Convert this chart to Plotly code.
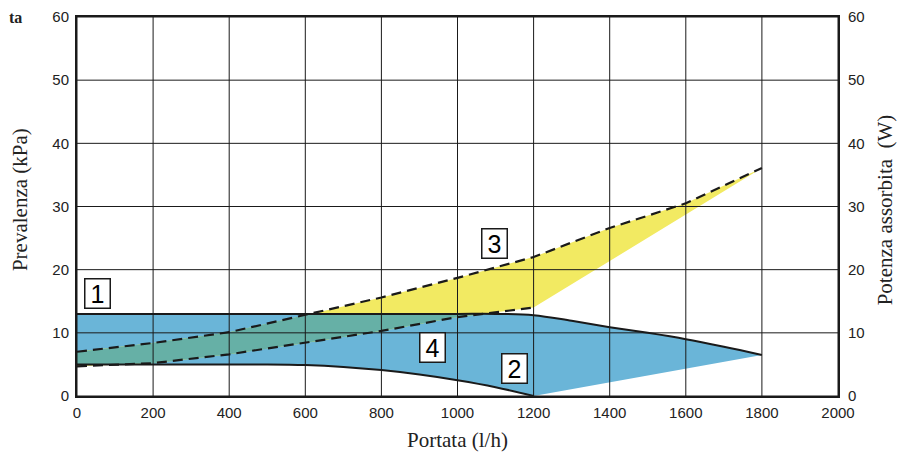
import numpy as np
import plotly.graph_objects as go

# portata (l/h) sampling points
q = [0, 200, 400, 500, 600, 700, 800, 900, 1000, 1100, 1200]
# curve 2: minimum head (kPa)
h_min = [5.0, 5.0, 5.0, 5.0, 4.9, 4.6, 4.1, 3.4, 2.5, 1.4, 0.0]
# curve 1: maximum head (kPa)
q_max = [0, 200, 400, 600, 800, 1000, 1100, 1200, 1300, 1400, 1500, 1600, 1700, 1800]
h_max = [13.0, 13.0, 13.0, 13.0, 13.0, 13.0, 13.0, 12.8, 11.9, 10.9, 10.0, 9.0, 7.8, 6.5]

# curve 3: max absorbed power (W)
q_p = [0, 200, 400, 600, 800, 1000, 1200, 1400, 1600, 1800]
p_max = [7.0, 8.4, 10.1, 12.8, 15.6, 18.7, 22.0, 26.6, 30.5, 36.1]
# curve 4: min absorbed power (W)
q_p4 = [0, 200, 400, 600, 800, 1000, 1200]
p_min = [4.7, 5.2, 6.6, 8.4, 10.3, 12.5, 14.0]

labels = ["1", "2", "3", "4"]
label_x = [55, 1151, 1096, 933]
label_y = [16.3, 4.4, 24.2, 7.6]

x_ticks = list(range(0, 2001, 200))
y_ticks = list(range(0, 61, 10))

BLUE = "#6ab5d8"
YELLOW = "#f2ea62"
TEAL = "#66b0a6"

fig = go.Figure()

# blue field (head)
bx = q_max + [1200] + q[::-1]
by = h_max + [0.0] + h_min[::-1]
fig.add_trace(go.Scatter(x=bx, y=by, fill="toself", fillcolor=BLUE, mode="none",
                         hoverinfo="skip", showlegend=False))

# yellow field (power)
yx = q_p + q_p4[::-1]
yy = p_max + p_min[::-1]
fig.add_trace(go.Scatter(x=yx, y=yy, fill="toself", fillcolor=YELLOW, mode="none",
                         hoverinfo="skip", showlegend=False))

# overlap of the two fields
g = np.arange(0, 1201, 5)
hi = np.minimum(np.interp(g, q_p, p_max), np.interp(g, q_max, h_max))
lo = np.maximum(np.interp(g, q_p4, p_min), np.interp(g, q, h_min))
m = hi > lo
ox = list(g[m]) + list(g[m][::-1])
oy = list(hi[m]) + list(lo[m][::-1])
fig.add_trace(go.Scatter(x=ox, y=oy, fill="toself", fillcolor=TEAL, mode="none",
                         hoverinfo="skip", showlegend=False))

# grid on top of the fills
gx, gy = [], []
for t in x_ticks:
    gx.extend([t, t, None])
    gy.extend([0, 60, None])
for t in y_ticks:
    gx.extend([0, 2000, None])
    gy.extend([t, t, None])
fig.add_trace(go.Scatter(x=gx, y=gy, mode="lines", line=dict(color="#1a1a1a", width=1),
                         hoverinfo="skip", showlegend=False))

# curves
fig.add_trace(go.Scatter(x=q_max, y=h_max, mode="lines", line=dict(color="#1a1a1a", width=2),
                         line_shape="spline", hoverinfo="skip", showlegend=False))
fig.add_trace(go.Scatter(x=q, y=h_min, mode="lines", line=dict(color="#1a1a1a", width=2),
                         line_shape="spline", hoverinfo="skip", showlegend=False))
fig.add_trace(go.Scatter(x=q_p, y=p_max, mode="lines",
                         line=dict(color="#1a1a1a", width=2.2, dash="10px,6px"),
                         yaxis="y2", hoverinfo="skip", showlegend=False))
fig.add_trace(go.Scatter(x=q_p4, y=p_min, mode="lines",
                         line=dict(color="#1a1a1a", width=2.2, dash="10px,6px"),
                         yaxis="y2", hoverinfo="skip", showlegend=False))

for t, x, y in zip(labels, label_x, label_y):
    fig.add_annotation(x=x, y=y, text=t, showarrow=False, bgcolor="white",
                       bordercolor="#1a1a1a", borderwidth=1.5, borderpad=1,
                       width=22, height=26, align="center", valign="middle",
                       font=dict(family="Liberation Sans, Arial", size=25, color="black"))

serif = "Liberation Serif, Times New Roman, serif"
fig.add_annotation(xref="paper", yref="paper", x=-0.0749, y=0.517, text="Prevalenza (kPa)",
                   xanchor="center", yanchor="middle",
                   textangle=-90, showarrow=False, font=dict(family=serif, size=21, color="#222"))
fig.add_annotation(xref="paper", yref="paper", x=1.0618, y=0.49, text="Potenza assorbita\u00a0\u00a0(W)",
                   xanchor="center", yanchor="middle",
                   textangle=-90, showarrow=False, font=dict(family=serif, size=21, color="#222"))
fig.add_annotation(xref="paper", yref="paper", x=0.5, y=-0.116, text="Portata (l/h)",
                   xanchor="center", yanchor="middle",
                   showarrow=False, font=dict(family=serif, size=21, color="#222"))
fig.add_annotation(xref="paper", yref="paper", x=-0.069, xanchor="right", y=1.0,
                   yanchor="middle", text="<b>ta</b>", showarrow=False,
                   font=dict(family=serif, size=16, color="#222"))

tickfont = dict(family="Liberation Sans, Arial", size=15, color="#222")
fig.update_layout(
    width=917, height=459,
    margin=dict(l=77, r=79, t=17, b=63, autoexpand=False),
    plot_bgcolor="white", paper_bgcolor="white",
    xaxis=dict(range=[0, 2000], tickvals=x_ticks, showgrid=False, zeroline=False,
               showline=True, linecolor="#1a1a1a", linewidth=2, mirror=True,
               tickfont=tickfont, ticks="outside", ticklen=2, tickcolor="rgba(0,0,0,0)"),
    yaxis=dict(range=[0, 60], tickvals=y_ticks, showgrid=False, zeroline=False,
               showline=True, linecolor="#1a1a1a", linewidth=2, mirror=True,
               tickfont=tickfont, ticks="outside", ticklen=3, tickcolor="rgba(0,0,0,0)"),
    yaxis2=dict(range=[0, 60], tickvals=y_ticks, overlaying="y", side="right",
                showgrid=False, zeroline=False, tickfont=tickfont,
                ticks="outside", ticklen=6, tickcolor="rgba(0,0,0,0)"),
)

# the page body has a default 8px margin; remove it so the figure fills the window
fig.write_html("out.html", config={"displayModeBar": False},
               post_script="document.body.style.margin='0';")
